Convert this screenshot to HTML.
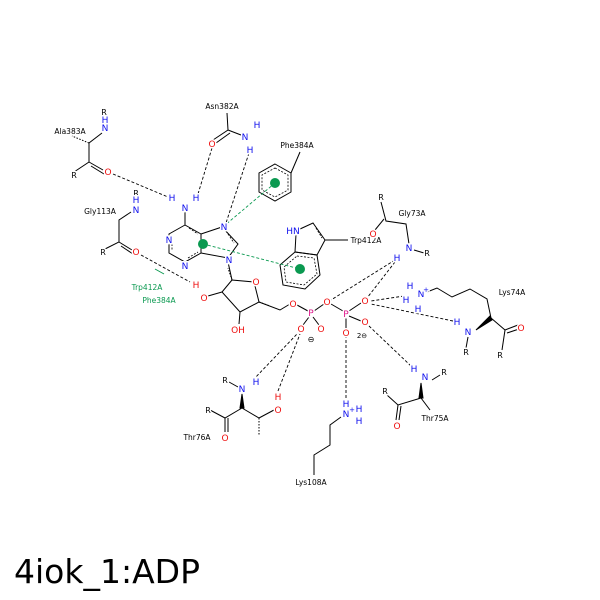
<!DOCTYPE html>
<html><head><style>body{margin:0;background:#fff}svg{display:block}.h text{paint-order:stroke;stroke:#fff;stroke-width:3px}</style></head><body>
<svg width="600" height="600" viewBox="0 0 600 600" xmlns="http://www.w3.org/2000/svg" font-family="DejaVu Sans, Liberation Sans, sans-serif">
<rect width="600" height="600" fill="#fff"/>
<g stroke="#000" stroke-width="1" fill="none">
<polyline points="185,211 185,225 201,234 201,253 185,262 169,253 169,234 185,225"/>
<polyline points="201,234 222,227 238,244 228,258 201,253"/>
<polyline points="228,262 232,280 254,282 259,302 240,312 222,292 232,280"/>
<line x1="222" y1="292" x2="208" y2="296"/>
<line x1="240" y1="312" x2="239" y2="324"/>
<polyline points="259,302 280,310 290,304"/>
<line x1="297" y1="305" x2="308" y2="311"/><line x1="314" y1="311" x2="324" y2="304"/>
<line x1="331" y1="304" x2="343" y2="311"/><line x1="349" y1="311" x2="361" y2="303"/>
<line x1="349" y1="316" x2="361" y2="321"/><line x1="346" y1="318" x2="346" y2="328"/>
<line x1="309" y1="317" x2="303" y2="325"/><line x1="313" y1="317" x2="319" y2="325"/>
<polyline points="102,133 89,143 89,162 74,172"/>
<line x1="89" y1="162" x2="103" y2="170"/><line x1="91" y1="166" x2="104" y2="174"/>
<polyline points="227,113 228,130 213,140"/><line x1="230" y1="133" x2="216" y2="143"/>
<line x1="228" y1="130" x2="241" y2="135"/>
<polygon points="275,164 291,173 291,192 275,201 259,192 259,173"/>
<line x1="291" y1="173" x2="300" y2="152"/>
<polyline points="131,212 119,220 119,242 103,250"/>
<line x1="119" y1="242" x2="132" y2="250"/><line x1="121" y1="246" x2="133" y2="254"/>
<polyline points="295,252 296,234"/>
<polyline points="300,229 313,223 325,240 317,255 295,252"/>
<polygon points="295,252 317,255 320,275 305,289 283,285 280,265"/>
<line x1="325" y1="240" x2="348" y2="240"/>
<polyline points="381,202 386,221 406,224 409,244"/><line x1="384" y1="219" x2="375" y2="230"/>
<line x1="414" y1="250" x2="424" y2="253"/>
<polyline points="427,292 437,288 452,297 470,289 487,299 491,318 505,330"/>
<line x1="505" y1="330" x2="518" y2="325"/><line x1="507" y1="333" x2="519" y2="329"/>
<line x1="505" y1="330" x2="502" y2="350"/>
<line x1="468" y1="337" x2="466" y2="348"/>
<polyline points="432,380 440,375"/><polyline points="421,398 398,405 387,395"/><line x1="421" y1="398" x2="430" y2="410"/>
<line x1="398" y1="405" x2="396" y2="420"/><line x1="401" y1="406" x2="399" y2="420"/>
<polyline points="341,417 330,425 330,445 314,455 314,475"/>
<polyline points="229,382 238,387"/><polyline points="242,408 225,418 210,410"/><line x1="225" y1="418" x2="225" y2="432"/><line x1="228" y1="418" x2="228" y2="432"/>
<polyline points="242,408 259,418 274,410"/>
</g>
<g stroke="#000" stroke-width="0.8" stroke-dasharray="2,1.5" fill="none">
<polygon points="275,168 288,175 288,190 275,197 262,190 262,175"/>
<polygon points="297,256 314,258 317,274 304,285 286,282 284,267"/>
<line x1="189" y1="228" x2="198" y2="234"/><line x1="172" y1="237" x2="172" y2="251"/><line x1="188" y1="258" x2="198" y2="252"/>
<line x1="316" y1="228" x2="322" y2="238"/><line x1="226" y1="231" x2="234" y2="243"/>
</g>
<g stroke="#000" stroke-width="1">
<polygon points="242,394 240,408 244,408" fill="#000"/>
<polygon points="421,383 419,398 423,398" fill="#000"/>
<polygon points="476,330 490,316 492,320" fill="#000"/>
</g>
<g stroke="#000" stroke-width="1" stroke-dasharray="1.5,1.5">
<line x1="89" y1="143" x2="72" y2="136"/><line x1="259" y1="418" x2="259" y2="436"/>
<line x1="232" y1="280" x2="228" y2="268"/><line x1="259" y1="302" x2="270" y2="306"/>
</g>
<g stroke="#000" stroke-width="0.9" stroke-dasharray="3,2" fill="none">
<line x1="113" y1="174" x2="168" y2="197"/>
<line x1="212" y1="148" x2="198" y2="194"/>
<line x1="249" y1="153" x2="226" y2="223"/>
<line x1="141" y1="255" x2="190" y2="282"/>
<line x1="395" y1="260" x2="331" y2="300"/>
<line x1="395" y1="262" x2="367" y2="298"/>
<line x1="404" y1="296" x2="371" y2="301"/>
<line x1="453" y1="321" x2="371" y2="304"/>
<line x1="411" y1="366" x2="369" y2="326"/>
<line x1="346" y1="398" x2="346" y2="337"/>
<line x1="253" y1="380" x2="298" y2="333"/>
<line x1="278" y1="391" x2="300" y2="334"/>
</g>
<g stroke="#0a9950" stroke-width="0.9" stroke-dasharray="3,2">
<line x1="275" y1="183" x2="224" y2="226"/>
<line x1="203" y1="244" x2="300" y2="269"/>
</g>
<line x1="155" y1="269" x2="164" y2="274" stroke="#0a9950" stroke-width="1"/>
<circle cx="275" cy="183" r="5" fill="#0a9950"/>
<circle cx="203" cy="244" r="5" fill="#0a9950"/>
<circle cx="300" cy="269" r="5" fill="#0a9950"/>
<g class="h">
<g font-size="7.5" fill="#000" text-anchor="middle">
<text x="70" y="134">Ala383A</text><text x="222" y="109">Asn382A</text><text x="297" y="148">Phe384A</text>
<text x="100" y="214">Gly113A</text><text x="366" y="243">Trp412A</text><text x="412" y="216">Gly73A</text>
<text x="512" y="295">Lys74A</text><text x="435" y="421">Thr75A</text><text x="311" y="485">Lys108A</text>
<text x="197" y="440">Thr76A</text>
</g>
<g font-size="8" fill="#000" text-anchor="middle">
<text x="104" y="115">R</text><text x="74" y="178">R</text><text x="136" y="196">R</text><text x="103" y="255">R</text>
<text x="381" y="200">R</text><text x="427" y="256">R</text><text x="466" y="355">R</text><text x="500" y="358">R</text>
<text x="444" y="375">R</text><text x="385" y="394">R</text><text x="225" y="383">R</text><text x="208" y="413">R</text>
<text x="362" y="338" font-size="7">2⊖</text><text x="311" y="342">⊖</text>
</g>
<g font-size="9" fill="#1010ee" text-anchor="middle">
<text x="105" y="123">H</text><text x="105" y="131">N</text>
<text x="185" y="211">N</text><text x="172" y="201">H</text><text x="196" y="201">H</text>
<text x="169" y="243">N</text><text x="185" y="269">N</text><text x="224" y="230">N</text><text x="229" y="263">N</text>
<text x="245" y="140">N</text><text x="257" y="128">H</text><text x="250" y="153">H</text>
<text x="136" y="203">H</text><text x="136" y="213">N</text>
<text x="293" y="234">HN</text>
<text x="409" y="251">N</text><text x="397" y="261">H</text>
<text x="421" y="297">N</text><text x="426" y="292" font-size="7">+</text><text x="410" y="289">H</text><text x="406" y="303">H</text><text x="418" y="312">H</text>
<text x="468" y="335">N</text><text x="457" y="325">H</text>
<text x="414" y="372">H</text><text x="425" y="380">N</text>
<text x="346" y="407">H</text><text x="346" y="417">N</text><text x="352" y="412" font-size="7">+</text><text x="359" y="412">H</text><text x="359" y="424">H</text>
<text x="242" y="392">N</text><text x="256" y="385">H</text>
</g>
<g font-size="9" fill="#ee1010" text-anchor="middle">
<text x="108" y="175">O</text><text x="212" y="147">O</text><text x="136" y="255">O</text>
<text x="196" y="288">H</text><text x="204" y="301">O</text><text x="238" y="333">OH</text><text x="256" y="285">O</text>
<text x="293" y="307">O</text><text x="327" y="305">O</text><text x="365" y="304">O</text><text x="365" y="325">O</text><text x="346" y="336">O</text>
<text x="301" y="332">O</text><text x="321" y="332">O</text>
<text x="373" y="237">O</text><text x="521" y="331">O</text><text x="397" y="429">O</text>
<text x="225" y="441">O</text><text x="278" y="413">O</text><text x="278" y="400">H</text>
</g>
<g font-size="9" fill="#dd1188" text-anchor="middle"><text x="311" y="316">P</text><text x="346" y="317">P</text></g>
<g font-size="7.5" fill="#0a9950" text-anchor="middle"><text x="147" y="290">Trp412A</text><text x="159" y="303">Phe384A</text></g>
</g>
<text x="14" y="583" font-size="33" fill="#000">4iok_1:ADP</text>
</svg>
</body></html>
